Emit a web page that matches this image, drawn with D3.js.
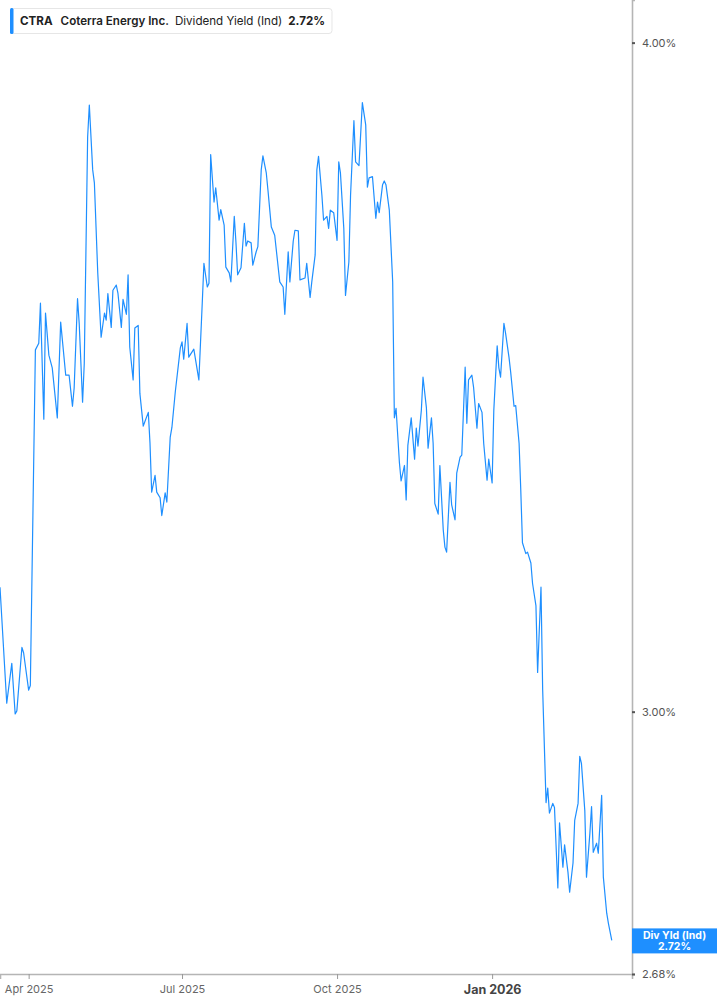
<!DOCTYPE html>
<html>
<head>
<meta charset="utf-8">
<script src="https://cdn.jsdelivr.net/npm/d3@7"></script>
<style>
  body { margin: 0; background: #fff; font-family: Inter, "Noto Sans", sans-serif; }
</style>
</head>
<body>
<div class="chart"></div>
<script>
// dividend yield (%)
var dates = [
  "2025-03-15","2025-03-19","2025-03-22","2025-03-24","2025-03-25","2025-03-28","2025-03-29","2025-04-01","2025-04-02","2025-04-05",
  "2025-04-07","2025-04-08","2025-04-10","2025-04-11","2025-04-13","2025-04-15","2025-04-18","2025-04-20","2025-04-23","2025-04-25",
  "2025-04-27","2025-04-28","2025-04-30","2025-05-01","2025-05-03","2025-05-04","2025-05-06","2025-05-07","2025-05-09","2025-05-10",
  "2025-05-12","2025-05-14","2025-05-16","2025-05-17","2025-05-18","2025-05-20","2025-05-21","2025-05-23","2025-05-24","2025-05-26",
  "2025-05-27","2025-05-29","2025-05-30","2025-05-31","2025-06-02","2025-06-03","2025-06-05","2025-06-06","2025-06-08","2025-06-11",
  "2025-06-12","2025-06-13","2025-06-15","2025-06-16","2025-06-18","2025-06-19","2025-06-21","2025-06-22","2025-06-24","2025-06-25",
  "2025-06-27","2025-06-30","2025-07-01","2025-07-02","2025-07-04","2025-07-05","2025-07-08","2025-07-11","2025-07-13","2025-07-14",
  "2025-07-16","2025-07-17","2025-07-18","2025-07-20","2025-07-21","2025-07-23","2025-07-24","2025-07-26","2025-07-27","2025-07-29",
  "2025-07-30","2025-08-01","2025-08-02","2025-08-03","2025-08-05","2025-08-07","2025-08-08","2025-08-09","2025-08-11","2025-08-12",
  "2025-08-14","2025-08-15","2025-08-17","2025-08-18","2025-08-20","2025-08-21","2025-08-23","2025-08-25","2025-08-28","2025-08-30",
  "2025-08-31","2025-09-02","2025-09-03","2025-09-05","2025-09-06","2025-09-08","2025-09-09","2025-09-12","2025-09-13","2025-09-15",
  "2025-09-16","2025-09-18","2025-09-19","2025-09-20","2025-09-22","2025-09-23","2025-09-25","2025-09-26","2025-09-27","2025-09-29",
  "2025-10-01","2025-10-02","2025-10-03","2025-10-05","2025-10-06","2025-10-08","2025-10-09","2025-10-11","2025-10-12","2025-10-14",
  "2025-10-16","2025-10-18","2025-10-19","2025-10-20","2025-10-22","2025-10-24","2025-10-25","2025-10-26","2025-10-28","2025-10-29",
  "2025-10-30","2025-11-01","2025-11-03","2025-11-04","2025-11-05","2025-11-07","2025-11-08","2025-11-10","2025-11-11","2025-11-12",
  "2025-11-14","2025-11-16","2025-11-17","2025-11-18","2025-11-20","2025-11-21","2025-11-23","2025-11-24","2025-11-26","2025-11-27",
  "2025-11-28","2025-11-30","2025-12-01","2025-12-03","2025-12-04","2025-12-05","2025-12-07","2025-12-08","2025-12-10","2025-12-11",
  "2025-12-13","2025-12-14","2025-12-16","2025-12-17","2025-12-18","2025-12-20","2025-12-21","2025-12-23","2025-12-24","2025-12-26",
  "2025-12-27","2025-12-29","2025-12-30","2026-01-01","2026-01-02","2026-01-04","2026-01-05","2026-01-06","2026-01-08","2026-01-09",
  "2026-01-11","2026-01-12","2026-01-14","2026-01-15","2026-01-17","2026-01-18","2026-01-19","2026-01-21","2026-01-22","2026-01-24",
  "2026-01-25","2026-01-27","2026-01-28","2026-01-30","2026-01-31","2026-02-02","2026-02-03","2026-02-04","2026-02-06","2026-02-07",
  "2026-02-09","2026-02-10","2026-02-12","2026-02-13","2026-02-15","2026-02-16","2026-02-18","2026-02-19","2026-02-21","2026-02-22",
  "2026-02-23","2026-02-25","2026-02-26","2026-02-28","2026-03-01","2026-03-02","2026-03-04","2026-03-05","2026-03-07","2026-03-08",
  "2026-03-10","2026-03-11","2026-03-13"
];
var yieldValues = [
  3.165,3.011,3.063,2.997,3.001,3.084,3.077,3.028,3.034,3.505,
  3.515,3.576,3.402,3.561,3.497,3.478,3.404,3.547,3.467,3.467,
  3.421,3.448,3.583,3.545,3.427,3.485,3.841,3.894,3.787,3.766,
  3.623,3.524,3.561,3.550,3.591,3.539,3.596,3.604,3.591,3.539,
  3.582,3.559,3.620,3.509,3.460,3.538,3.542,3.440,3.392,3.412,
  3.367,3.297,3.321,3.297,3.289,3.264,3.296,3.283,3.376,3.390,
  3.442,3.508,3.517,3.491,3.545,3.494,3.506,3.460,3.576,3.638,
  3.601,3.607,3.812,3.735,3.758,3.706,3.723,3.698,3.632,3.623,
  3.609,3.712,3.671,3.620,3.631,3.701,3.665,3.673,3.670,3.635,
  3.656,3.664,3.787,3.810,3.782,3.754,3.695,3.682,3.609,3.601,
  3.559,3.656,3.609,3.673,3.690,3.689,3.612,3.615,3.638,3.585,
  3.609,3.651,3.787,3.809,3.746,3.706,3.712,3.693,3.722,3.718,
  3.674,3.800,3.782,3.693,3.588,3.640,3.746,3.868,3.800,3.794,
  3.898,3.861,3.759,3.774,3.776,3.709,3.735,3.718,3.763,3.769,
  3.763,3.722,3.609,3.404,3.418,3.339,3.313,3.335,3.286,3.364,
  3.404,3.344,3.389,3.363,3.415,3.464,3.419,3.360,3.404,3.367,
  3.281,3.266,3.335,3.244,3.220,3.213,3.311,3.279,3.258,3.324,
  3.347,3.350,3.479,3.396,3.460,3.467,3.449,3.389,3.425,3.412,
  3.367,3.314,3.344,3.310,3.415,3.511,3.478,3.464,3.545,3.530,
  3.494,3.472,3.421,3.422,3.367,3.300,3.226,3.211,3.213,3.198,
  3.170,3.140,3.051,3.165,3.028,2.885,2.903,2.872,2.884,2.879,
  2.781,2.860,2.806,2.833,2.800,2.776,2.811,2.863,2.884,2.943,
  2.934,2.875,2.794,2.847,2.880,2.824,2.835,2.823,2.894,2.794,
  2.751,2.739,2.719
];

var xTickDates = ["2025-04-01", "2025-07-01", "2025-10-01", "2026-01-01"];
var xTickLabels = ["Apr 2025", "Jul 2025", "Oct 2025", "Jan 2026"];
var yTickValues = [4.00, 3.00, 2.68];

var ticker = "CTRA";
var company = "Coterra Energy Inc.";
var metric = "Dividend Yield (Ind)";
var lastTag = "Div Yld (Ind)";

var svgWidth = 717, svgHeight = 1005;
var plotRight = 632, plotBottom = 974;
var blue = "#1e8fff";

var parseDate = d3.timeParse("%Y-%m-%d");
var data = dates.map(function(d, i) {
  return { date: parseDate(d), value: yieldValues[i] };
});
var last = data[data.length - 1];

var svg = d3.select(".chart")
  .append("svg")
  .attr("width", svgWidth)
  .attr("height", svgHeight);

// scales
var xScale = d3.scaleTime()
  .domain([parseDate("2025-03-15"), parseDate("2026-03-25")])
  .range([0, plotRight]);

var yScale = d3.scaleLog()
  .domain([2.68, 4.074])
  .range([plotBottom, 0]);

// line
var line = d3.line()
  .x(d => xScale(d.date))
  .y(d => yScale(d.value));

svg.append("path")
  .datum(data)
  .attr("d", line)
  .attr("fill", "none")
  .attr("stroke", blue)
  .attr("stroke-width", 1.2)
  .attr("stroke-linejoin", "round");

// bottom axis
var xAxis = d3.axisBottom(xScale)
  .tickValues(xTickDates.map(parseDate))
  .tickFormat((d, i) => xTickLabels[i])
  .tickSize(5)
  .tickPadding(6);

var xg = svg.append("g")
  .attr("transform", `translate(0, ${plotBottom})`)
  .call(xAxis);
xg.select(".domain").attr("stroke", "#b5b5b5").attr("stroke-width", 1.6);
xg.selectAll(".tick line").attr("stroke", "#999");
xg.selectAll(".tick text")
  .attr("fill", "#666")
  .style("font-family", "Inter, sans-serif")
  .style("font-size", "11px");
xg.selectAll(".tick text")
  .filter((d, i) => i === 3)
  .attr("fill", "#444")
  .style("font-size", "12.5px")
  .style("font-weight", "700");

// right axis
var yAxis = d3.axisRight(yScale)
  .tickValues(yTickValues)
  .tickFormat(d => d3.format(".2f")(d) + "%")
  .tickSize(3)
  .tickPadding(7);

var yg = svg.append("g")
  .attr("transform", `translate(${plotRight}, 0)`)
  .call(yAxis);
yg.select(".domain").attr("stroke", "#b5b5b5").attr("stroke-width", 1.6);
yg.selectAll(".tick line").attr("stroke", "#555").attr("stroke-width", 2);
yg.selectAll(".tick text")
  .attr("fill", "#555")
  .style("font-family", "Inter, sans-serif")
  .style("font-size", "11px");

// last value tag
var tagY = yScale(last.value);
svg.append("rect")
  .attr("x", plotRight)
  .attr("y", tagY - 12)
  .attr("width", svgWidth - plotRight)
  .attr("height", 25)
  .attr("fill", blue);

svg.append("text")
  .attr("x", (plotRight + svgWidth) / 2)
  .attr("y", tagY - 1)
  .attr("text-anchor", "middle")
  .attr("fill", "#fff")
  .style("font-size", "10.5px")
  .style("font-weight", "700")
  .text(lastTag);

svg.append("text")
  .attr("x", (plotRight + svgWidth) / 2)
  .attr("y", tagY + 10)
  .attr("text-anchor", "middle")
  .attr("fill", "#fff")
  .style("font-size", "10.5px")
  .style("font-weight", "700")
  .text(d3.format(".2f")(last.value) + "%");

// legend
var legend = svg.append("g");
var legendBox = legend.append("rect")
  .attr("x", 10.5)
  .attr("y", 8.5)
  .attr("height", 25)
  .attr("rx", 3)
  .attr("fill", "#fff")
  .attr("stroke", "#e6e6e6");

legend.append("rect")
  .attr("x", 10)
  .attr("y", 8)
  .attr("width", 3.5)
  .attr("height", 26)
  .attr("rx", 1.5)
  .attr("fill", blue);

var legendText = legend.append("text")
  .attr("x", 20)
  .attr("y", 25)
  .attr("fill", "#222")
  .style("font-size", "11.6px");

legendText.append("tspan").style("font-weight", "700").text(ticker);
legendText.append("tspan").attr("dx", 8).style("font-weight", "600").text(company);
legendText.append("tspan").attr("dx", 6).style("font-weight", "400").text(metric);
legendText.append("tspan").attr("dx", 6).style("font-weight", "700")
  .text(d3.format(".2f")(last.value) + "%");

var bb = legendText.node().getBBox();
legendBox.attr("width", bb.x + bb.width + 7 - 10.5);
</script>
</body>
</html>
